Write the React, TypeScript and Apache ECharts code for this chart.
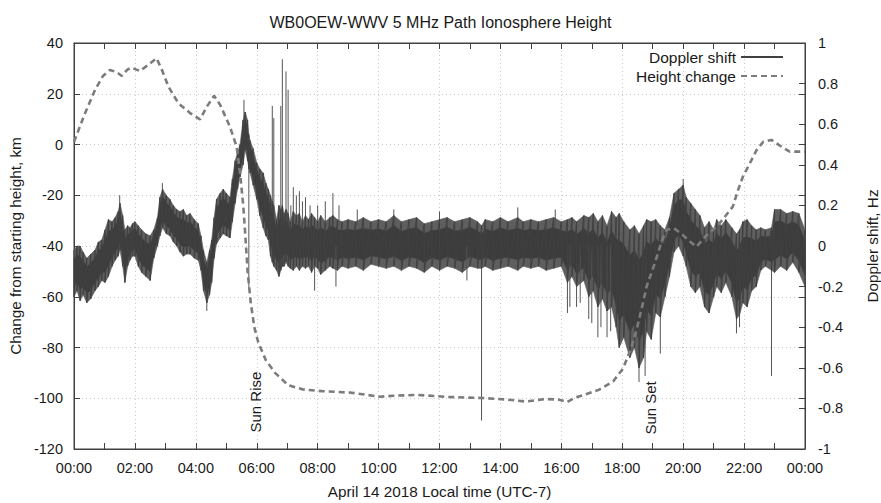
import React, { useEffect, useRef } from "react";
import * as echarts from "echarts";

const titleText = "WB0OEW-WWV 5 MHz Path Ionosphere Height";
const xAxisName = "April 14 2018 Local time (UTC-7)";
const leftAxisName = "Change from starting height, km";
const rightAxisName = "Doppler shift, Hz";

// Height change (km, left axis)
const heightHours = [0, 0.35, 0.69, 0.95, 1.18, 1.4, 1.57, 1.75, 1.89, 2.05, 2.17, 2.45, 2.71, 2.9, 3.1, 3.43, 3.81, 4.14, 4.36, 4.6, 4.8, 5.12, 5.34, 5.45, 5.56, 5.62, 5.7, 5.8, 5.92, 6.05, 6.3, 6.6, 7.03, 7.5, 8.14, 9.1, 10.05, 10.5, 11.3, 12.28, 13.4, 14.2, 14.84, 15.46, 15.9, 16.19, 16.45, 16.74, 17.23, 17.7, 18.03, 18.3, 18.47, 18.65, 18.8, 19.07, 19.3, 19.45, 19.7, 19.99, 20.2, 20.44, 20.75, 21.1, 21.4, 21.63, 21.8, 21.96, 22.19, 22.41, 22.63, 22.9, 23.23, 23.5, 24];
const heightKm = [1, 12, 21.5, 27, 29.4, 28.5, 27, 29.5, 30.3, 29.5, 29, 31.5, 34, 29, 22.8, 16.2, 12.4, 9.9, 14.9, 19.2, 15.6, 7, -0.9, -11, -24.5, -35, -50, -62, -72, -78, -85, -90, -94.8, -96.5, -97.2, -97.8, -99.4, -99, -98.7, -99.5, -99.9, -100.5, -101.3, -100.3, -100.5, -101.5, -99.8, -98.7, -96.7, -93.4, -88.2, -80, -73, -64, -56, -46.7, -38, -33.7, -33, -35.7, -38, -40.3, -36, -32.4, -28, -24.5, -18, -12.7, -7.4, -2.2, 1.1, 1.8, -0.9, -2.8, -2.8];

// Doppler shift noise band (Hz, right axis): time, lower and upper edge of the trace
const dopplerHours = [0, 0.1, 0.2, 0.3, 0.42, 0.55, 0.69, 0.8, 0.91, 1.02, 1.13, 1.25, 1.35, 1.45, 1.51, 1.6, 1.67, 1.76, 1.84, 1.92, 2.0, 2.11, 2.22, 2.36, 2.5, 2.62, 2.74, 2.82, 2.91, 3.03, 3.15, 3.26, 3.37, 3.48, 3.59, 3.7, 3.81, 3.95, 4.08, 4.17, 4.25, 4.36, 4.45, 4.52, 4.6, 4.68, 4.8, 4.9, 5.0, 5.12, 5.2, 5.29, 5.37, 5.45, 5.55, 5.62, 5.7, 5.74, 5.78, 5.88, 6.0, 6.1, 6.21, 6.3, 6.38, 6.45, 6.51, 6.56, 6.65, 6.73, 6.79, 6.84, 6.9, 6.96, 7.03, 7.1, 7.2, 7.3, 7.4, 7.5, 7.6, 7.7, 7.8, 7.9, 8.0, 8.1, 8.25, 8.4, 8.5, 8.65, 8.8, 9.0, 9.25, 9.5, 9.75, 10.0, 10.25, 10.5, 10.75, 11.0, 11.25, 11.5, 11.75, 12.0, 12.25, 12.5, 12.75, 13.0, 13.25, 13.38, 13.5, 13.75, 14.0, 14.25, 14.57, 14.75, 15.0, 15.25, 15.5, 15.75, 16.0, 16.2, 16.35, 16.5, 16.74, 16.9, 17.05, 17.2, 17.35, 17.5, 17.65, 17.8, 17.9, 18.05, 18.25, 18.4, 18.55, 18.7, 18.8, 18.95, 19.1, 19.25, 19.4, 19.55, 19.7, 19.85, 20.0, 20.1, 20.25, 20.4, 20.55, 20.7, 20.85, 21.0, 21.1, 21.25, 21.4, 21.6, 21.75, 21.85, 21.96, 22.1, 22.25, 22.4, 22.55, 22.7, 22.9, 23.0, 23.2, 23.4, 23.6, 23.8, 24.0];
const dopplerLow = [-0.25, -0.22, -0.27, -0.24, -0.28, -0.26, -0.22, -0.2, -0.17, -0.18, -0.15, -0.1, -0.07, -0.05, -0.02, -0.1, -0.18, -0.1, -0.07, -0.05, -0.05, -0.1, -0.13, -0.15, -0.17, -0.06, 0, 0.05, 0.09, 0.06, 0.05, 0.02, 0, -0.03, -0.05, -0.04, -0.04, -0.06, -0.07, -0.12, -0.22, -0.28, -0.24, -0.18, -0.06, 0.01, 0.04, 0.06, 0.05, 0.04, 0.12, 0.21, 0.28, 0.34, 0.4, 0.47, 0.42, 0.38, 0.36, 0.3, 0.23, 0.15, 0.09, 0.05, 0.03, -0.05, -0.08, -0.1, -0.12, -0.15, -0.12, -0.1, -0.1, -0.08, -0.1, -0.11, -0.12, -0.1, -0.12, -0.1, -0.11, -0.1, -0.13, -0.1, -0.11, -0.14, -0.12, -0.1, -0.11, -0.12, -0.1, -0.11, -0.1, -0.12, -0.09, -0.1, -0.11, -0.1, -0.12, -0.1, -0.11, -0.13, -0.1, -0.12, -0.1, -0.11, -0.13, -0.1, -0.11, -0.11, -0.1, -0.12, -0.11, -0.1, -0.12, -0.1, -0.11, -0.1, -0.12, -0.11, -0.1, -0.18, -0.15, -0.2, -0.17, -0.25, -0.22, -0.3, -0.26, -0.32, -0.3, -0.4, -0.5, -0.45, -0.55, -0.5, -0.6, -0.55, -0.42, -0.46, -0.33, -0.35, -0.25, -0.15, -0.03, 0, -0.05, -0.1, -0.2, -0.23, -0.2, -0.3, -0.33, -0.25, -0.2, -0.23, -0.18, -0.25, -0.36, -0.34, -0.28, -0.3, -0.22, -0.2, -0.12, -0.1, -0.12, -0.13, -0.1, -0.12, -0.08, -0.13, -0.2];
const dopplerHigh = [-0.02, 0, 0, -0.03, -0.06, -0.04, -0.02, 0.02, 0.03, 0.08, 0.13, 0.12, 0.14, 0.17, 0.21, 0.15, 0.08, 0.1, 0.09, 0.11, 0.12, 0.1, 0.08, 0.06, 0.05, 0.08, 0.14, 0.24, 0.28, 0.25, 0.23, 0.2, 0.18, 0.17, 0.18, 0.15, 0.16, 0.13, 0.11, 0.05, -0.02, -0.08, -0.02, 0.03, 0.14, 0.23, 0.26, 0.28, 0.26, 0.24, 0.33, 0.42, 0.46, 0.5, 0.62, 0.66, 0.62, 0.55, 0.52, 0.48, 0.41, 0.38, 0.36, 0.31, 0.28, 0.25, 0.22, 0.2, 0.13, 0.2, 0.18, 0.2, 0.16, 0.18, 0.16, 0.12, 0.17, 0.15, 0.16, 0.12, 0.15, 0.13, 0.16, 0.14, 0.12, 0.15, 0.12, 0.14, 0.15, 0.13, 0.12, 0.13, 0.12, 0.14, 0.12, 0.13, 0.12, 0.15, 0.12, 0.13, 0.14, 0.11, 0.12, 0.13, 0.14, 0.12, 0.13, 0.14, 0.12, 0.1, 0.13, 0.12, 0.14, 0.12, 0.14, 0.12, 0.13, 0.12, 0.13, 0.14, 0.12, 0.13, 0.14, 0.12, 0.15, 0.14, 0.16, 0.12, 0.15, 0.1, 0.17, 0.14, 0.16, 0.12, 0.08, 0.1, 0.06, 0.1, 0.13, 0.12, 0.13, 0.1, 0.08, 0.14, 0.26, 0.28, 0.3, 0.24, 0.21, 0.18, 0.15, 0.09, 0.12, 0.08, 0.13, 0.1, 0.13, 0.09, 0.06, 0.08, 0.12, 0.13, 0.1, 0.08, 0.09, 0.08, 0.09, 0.18, 0.18, 0.16, 0.17, 0.16, 0.08];

// Isolated Doppler spikes (Hz): time, start on the trace, tip of the spike
const spikeHours = [1.5, 2.9, 4.36, 5.58, 5.74, 6.51, 6.56, 6.79, 6.84, 6.96, 7.03, 7.12, 7.2, 7.3, 7.4, 7.5, 7.6, 7.75, 7.9, 8.0, 8.25, 8.5, 8.6, 8.7, 9.3, 10.5, 12.0, 12.9, 13.38, 14.57, 15.8, 16.2, 16.28, 16.5, 16.62, 16.9, 17.0, 17.2, 17.3, 17.5, 17.62, 18.55, 18.75, 19.25, 20.0, 21.75, 21.85, 22.9];
const spikeFrom = [0.1, 0.2, -0.2, 0.6, 0.4, 0.2, 0.2, 0.1, 0.1, 0.1, 0.1, 0.1, 0.1, 0.1, 0.1, 0.1, 0.1, 0.1, 0, 0.1, 0.1, 0.1, 0, 0.1, 0.1, 0.1, 0.1, 0, 0, 0.1, 0.1, 0, 0, 0, 0, 0, 0, 0, 0, 0, 0, -0.4, -0.4, -0.2, 0.2, -0.2, -0.2, 0];
const spikeTo = [0.25, 0.31, -0.32, 0.72, -0.21, 0.69, 0.63, 0.69, 0.92, 0.86, 0.77, 0.2, 0.29, 0.25, 0.27, 0.22, 0.24, 0.2, -0.22, 0.2, 0.22, 0.26, -0.2, 0.2, 0.18, 0.18, 0.17, -0.17, -0.86, 0.19, 0.18, -0.33, -0.3, -0.3, -0.28, -0.36, -0.38, -0.45, -0.4, -0.45, -0.42, -0.67, -0.64, -0.53, 0.33, -0.43, -0.4, -0.64];

const sunEvents = [
  { name: "Sun Rise", hour: 5.97, km: -101.5 },
  { name: "Sun Set", hour: 18.94, km: -103.8 },
];

const FONT = "'Liberation Sans', Arial, Helvetica, sans-serif";
const TEXT = "#1a1a1a";
const AXIS = "#404040";
const TRACE = "#3c3c3c";
const FRINGE = "#5e5e5e";
const CORE_FRACTION = 0.6;

function hhmm(v: number) {
  const h = Math.round(v) % 24;
  return (h < 10 ? "0" : "") + h + ":00";
}

export default function App() {
  const ref = useRef<HTMLDivElement>(null);
  useEffect(() => {
    if (!ref.current) return;
    const chart = echarts.init(ref.current, null, { renderer: "svg" });

    const zig: number[][] = [];
    dopplerHours.forEach((h, i) => {
      zig.push([h, dopplerHigh[i]]);
      zig.push([h, dopplerLow[i]]);
    });
    const bandRows = dopplerHours.map((h, i) => [h, dopplerLow[i], dopplerHigh[i]]);
    const spikeRows = spikeHours.map((h, i) => [h, spikeFrom[i], spikeTo[i]]);
    const height = heightHours.map((h, i) => [h, heightKm[i]]);

    const tick = { fontFamily: FONT, fontSize: 14.5, color: TEXT };
    const nameStyle = { fontFamily: FONT, fontSize: 15.3, color: TEXT };
    const grid = { show: true, lineStyle: { color: "#c8c8c8", type: [1, 3], width: 1 } };
    const inTick = { show: true, inside: true, length: 6, lineStyle: { color: AXIS } };

    const bandPolygon = (api: any, frac: number, fill: string) => {
      const top = bandRows.map((r) => {
        const mid = (r[1] + r[2]) / 2;
        return api.coord([r[0], mid + ((r[2] - r[1]) / 2) * frac]);
      });
      const bottom = bandRows
        .map((r) => {
          const mid = (r[1] + r[2]) / 2;
          return api.coord([r[0], mid - ((r[2] - r[1]) / 2) * frac]);
        })
        .reverse();
      return {
        type: "polygon",
        shape: { points: top.concat(bottom) },
        style: { fill, stroke: fill, lineWidth: 0.6 },
      };
    };

    chart.setOption({
      animation: false,
      backgroundColor: "#ffffff",
      textStyle: { fontFamily: FONT },
      title: {
        text: titleText,
        left: "center",
        top: 9,
        textStyle: { fontFamily: FONT, fontSize: 16, fontWeight: "normal", color: TEXT },
      },
      legend: {
        data: ["Doppler shift", "Height change"],
        orient: "vertical",
        right: 92,
        top: 44,
        align: "right",
        itemWidth: 42,
        itemHeight: 10,
        itemGap: 3,
        itemStyle: { opacity: 0 },
        textStyle: { fontFamily: FONT, fontSize: 15.5, color: TEXT },
      },
      grid: {
        left: 74,
        right: 76,
        top: 43,
        bottom: 54,
        show: true,
        borderColor: AXIS,
        borderWidth: 1,
        outerBoundsMode: "none",
      },
      xAxis: [
        {
          type: "value",
          min: 0,
          max: 24,
          interval: 2,
          position: "bottom",
          name: xAxisName,
          nameLocation: "middle",
          nameGap: 35,
          nameTextStyle: nameStyle,
          axisLine: { show: true, onZero: false, lineStyle: { color: AXIS } },
          axisTick: inTick,
          minorTick: { show: true, splitNumber: 2, length: 6, lineStyle: { color: AXIS } },
          axisLabel: { ...tick, margin: 11, formatter: hhmm },
          splitLine: grid,
        },
        {
          type: "value",
          min: 0,
          max: 24,
          interval: 2,
          position: "top",
          axisLine: { show: true, onZero: false, lineStyle: { color: AXIS } },
          axisTick: inTick,
          minorTick: { show: true, splitNumber: 2, length: 6, lineStyle: { color: AXIS } },
          axisLabel: { show: false },
          splitLine: { show: false },
        },
      ],
      yAxis: [
        {
          type: "value",
          min: -120,
          max: 40,
          interval: 20,
          position: "left",
          name: leftAxisName,
          nameLocation: "middle",
          nameGap: 50,
          nameRotate: 90,
          nameTextStyle: nameStyle,
          axisLine: { show: true, onZero: false, lineStyle: { color: AXIS } },
          axisTick: inTick,
          axisLabel: { ...tick, margin: 11 },
          splitLine: grid,
        },
        {
          type: "value",
          min: -1,
          max: 1,
          interval: 0.2,
          position: "right",
          name: rightAxisName,
          nameLocation: "middle",
          nameGap: 60,
          nameRotate: 90,
          nameTextStyle: nameStyle,
          axisLine: { show: true, onZero: false, lineStyle: { color: AXIS } },
          axisTick: inTick,
          axisLabel: {
            ...tick,
            margin: 13,
            formatter: (v: number) => String(Math.round(v * 10) / 10),
          },
          splitLine: { show: false },
        },
        {
          type: "value",
          min: -120,
          max: 40,
          interval: 20,
          position: "right",
          axisLine: { show: false, onZero: false },
          axisTick: inTick,
          axisLabel: { show: false },
          splitLine: { show: false },
        },
      ],
      series: [
        {
          type: "custom",
          name: "band",
          xAxisIndex: 0,
          yAxisIndex: 1,
          silent: true,
          z: 1,
          data: bandRows,
          encode: { x: 0, y: [1, 2] },
          renderItem: (params: any, api: any) => {
            if (params.dataIndex !== 0) return null;
            return {
              type: "group",
              children: [bandPolygon(api, 1, FRINGE), bandPolygon(api, CORE_FRACTION, TRACE)],
            };
          },
        },
        {
          type: "line",
          name: "Doppler shift",
          xAxisIndex: 0,
          yAxisIndex: 1,
          data: zig,
          symbol: "none",
          color: "#404040",
          lineStyle: { color: "#404040", width: 1 },
          z: 2,
        },
        {
          type: "custom",
          name: "spikes",
          xAxisIndex: 0,
          yAxisIndex: 1,
          silent: true,
          z: 2,
          data: spikeRows,
          encode: { x: 0, y: [1, 2] },
          renderItem: (params: any, api: any) => {
            const a = api.coord([api.value(0), api.value(1)]);
            const b = api.coord([api.value(0), api.value(2)]);
            return {
              type: "line",
              shape: { x1: a[0], y1: a[1], x2: b[0], y2: b[1] },
              style: { stroke: "#555555", lineWidth: 1 },
            };
          },
        },
        {
          type: "line",
          name: "Height change",
          xAxisIndex: 0,
          yAxisIndex: 0,
          data: height,
          symbol: "none",
          color: "#808080",
          lineStyle: { color: "#7c7c7c", width: 2.6, type: [6, 4] },
          z: 3,
          markPoint: {
            symbol: "circle",
            symbolSize: 0,
            silent: true,
            label: {
              show: true,
              position: "inside",
              rotate: 90,
              formatter: "{b}",
              fontFamily: FONT,
              fontSize: 15,
              color: TEXT,
            },
            data: sunEvents.map((e) => ({ name: e.name, coord: [e.hour, e.km] })),
          },
        },
      ],
    });
    return () => chart.dispose();
  }, []);
  return (
    <div
      ref={ref}
      style={{ position: "fixed", left: 0, top: 0, width: 881, height: 503, background: "#fff" }}
    />
  );
}
